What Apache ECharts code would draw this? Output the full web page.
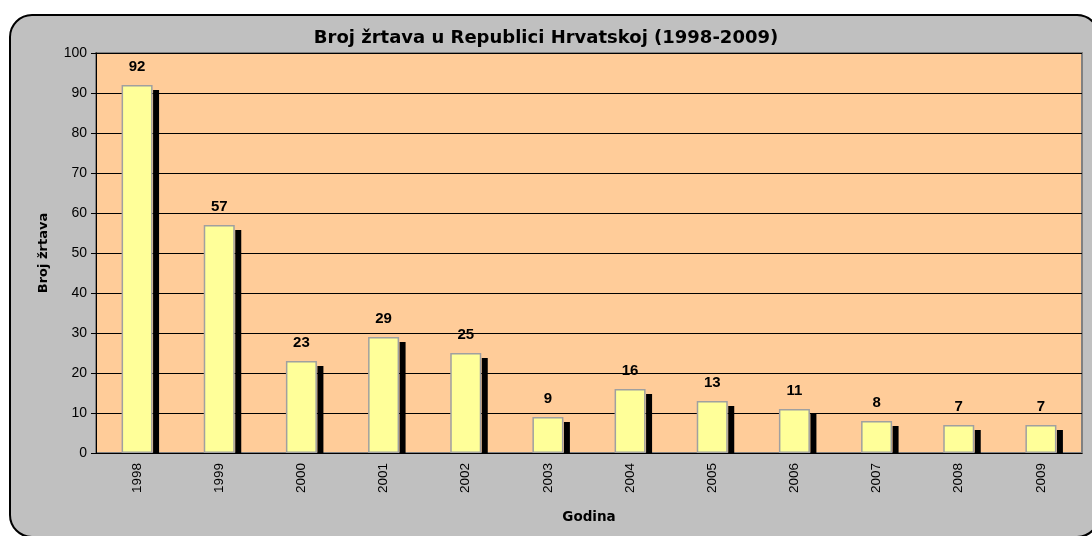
<!DOCTYPE html>
<html>
<head>
<meta charset="UTF-8">
<title>Broj žrtava</title>
<script src="https://cdn.jsdelivr.net/npm/echarts@6/dist/echarts.min.js"></script>
<style>
html, body { margin: 0; padding: 0; background: #fff; }
#chart { width: 1092px; height: 536px; }
</style>
</head>
<body>
<div id="chart"></div>
<script>
// podaci
var years = ['1998', '1999', '2000', '2001', '2002', '2003', '2004', '2005', '2006', '2007', '2008', '2009'];
var victims = [92, 57, 23, 29, 25, 9, 16, 13, 11, 8, 7, 7];
var yTicks = [0, 100, 10];

var font = "'Liberation Sans', Arial, sans-serif";
var wideFont = "'DejaVu Sans', sans-serif";
var chart = echarts.init(document.getElementById('chart'));

var option = {
  animation: false,
  textStyle: { fontFamily: font },
  graphic: [{
    type: 'rect',
    z: -10,
    shape: { x: 10, y: 15, width: 1089, height: 522, r: 22 },
    style: { fill: '#c0c0c0', stroke: '#000', lineWidth: 2 }
  }],
  title: {
    text: 'Broj žrtava u Republici Hrvatskoj (1998-2009)',
    left: 'center',
    top: 24,
    textStyle: { fontFamily: wideFont, fontSize: 18, fontWeight: 'bold', color: '#000' }
  },
  grid: {
    left: 96, right: 10, top: 53, bottom: 83,
    show: true,
    backgroundColor: '#ffcc99',
    borderColor: '#808080',
    borderWidth: 2
  },
  xAxis: {
    type: 'category',
    data: years,
    name: 'Godina',
    nameLocation: 'middle',
    nameGap: 57,
    nameTextStyle: { fontFamily: wideFont, fontSize: 13.5, fontWeight: 'bold', color: '#000' },
    axisLine: { lineStyle: { color: '#000', width: 1 } },
    axisTick: { length: 4, lineStyle: { color: '#000' } },
    axisLabel: { rotate: 90, margin: 10, fontSize: 13.5, color: '#000', fontFamily: font }
  },
  yAxis: {
    type: 'value',
    min: yTicks[0],
    max: yTicks[1],
    interval: yTicks[2],
    name: 'Broj žrtava',
    nameLocation: 'middle',
    nameGap: 46,
    nameTextStyle: { fontFamily: wideFont, fontSize: 13, fontWeight: 'bold', color: '#000' },
    axisLine: { show: true, lineStyle: { color: '#000', width: 1 } },
    axisTick: { show: true, length: 5, lineStyle: { color: '#000' } },
    axisLabel: { margin: 9, fontSize: 14, color: '#000', fontFamily: font },
    splitLine: { lineStyle: { color: '#000', width: 1 } }
  },
  series: [{
    // sjena stupca
    type: 'custom',
    z: 1,
    silent: true,
    data: victims.map(function (v, i) { return [i, v]; }),
    renderItem: function (params, api) {
      var top = api.coord([api.value(0), api.value(1)]);
      var base = api.coord([api.value(0), 0]);
      return {
        type: 'rect',
        shape: { x: top[0] + 16, y: top[1] + 5, width: 6, height: base[1] - top[1] - 5 },
        style: { fill: '#000' }
      };
    }
  }, {
    type: 'bar',
    z: 2,
    data: victims,
    barWidth: 31,
    itemStyle: { color: '#ffff99', borderColor: '#a0a0a0', borderWidth: 1.5 },
    label: {
      show: true,
      position: 'top',
      distance: 11,
      fontFamily: font,
      fontSize: 15,
      fontWeight: 'bold',
      color: '#000'
    }
  }]
};

chart.setOption(option);
</script>
</body>
</html>
